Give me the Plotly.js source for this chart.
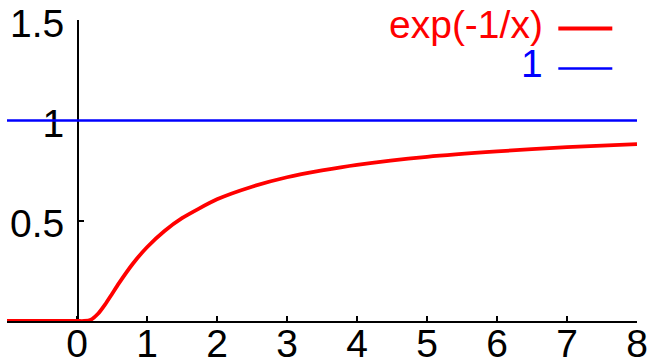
<!DOCTYPE html>
<html>
<head>
<meta charset="utf-8">
<script src="https://cdn.plot.ly/plotly-3.0.1.min.js"></script>
<style>html,body{margin:0;padding:0;background:#fff;}#chart{width:648px;height:362px;}</style>
</head>
<body>
<div id="chart"></div>
<script>
// Red curve: exp(-1/x)
var curveX = [-1, 0, 0.1, 0.2, 0.3, 0.4, 0.5, 0.6, 0.8, 1, 1.25, 1.5, 2, 2.5, 3, 3.5, 4, 5, 6, 7, 8];
var curveY = [0, 0, 0.00005, 0.0067, 0.036, 0.082, 0.135, 0.189, 0.287, 0.368, 0.449, 0.513, 0.607, 0.670, 0.717, 0.751, 0.779, 0.819, 0.846, 0.867, 0.882];
// Blue constant line: 1
var constX = [-1, 8];
var constY = [1, 1];
// Ticks
var xTicks = [0, 1, 2, 3, 4, 5, 6, 7, 8];
var yTicks = [0.5, 1, 1.5];
var yTickText = ['0.5', '1', '1.5'];
var legendNames = ['exp(-1/x)', '1'];

var FONT = 'Liberation Sans, Arial, Helvetica, sans-serif';
var FS = 39;
var RED = '#ff0000', BLUE = '#0000ff';

var traces = [
  {x: curveX, y: curveY, type: 'scatter', mode: 'lines', line: {color: RED, width: 3.8, shape: 'spline', smoothing: 0.6}, cliponaxis: false, showlegend: false, hoverinfo: 'skip'},
  {x: constX, y: constY, type: 'scatter', mode: 'lines', line: {color: BLUE, width: 2.5}, cliponaxis: false, showlegend: false, hoverinfo: 'skip'}
];

var layout = {
  width: 648, height: 362,
  margin: {l: 7, r: 11, t: 20, b: 41, pad: 0},
  paper_bgcolor: '#fff', plot_bgcolor: '#fff',
  font: {family: FONT, size: FS, color: '#000'},
  showlegend: false,
  xaxis: {
    range: [-1, 8], domain: [0, 1],
    tickmode: 'array', tickvals: xTicks, ticktext: xTicks.map(String),
    ticks: 'inside', ticklen: 5, tickwidth: 1.5, tickcolor: '#000',
    showline: true, linecolor: '#000', linewidth: 1.5,
    showgrid: false, zeroline: false, automargin: false,
    layer: 'below traces', fixedrange: true,
    ticklabelstandoff: -12,
    tickfont: {family: FONT, size: FS, color: '#000'}
  },
  yaxis: {
    range: [0, 1.5015], anchor: 'free', position: 1/9,
    tickmode: 'array', tickvals: yTicks, ticktext: yTickText,
    ticks: 'inside', ticklen: 5, tickwidth: 1.5, tickcolor: '#000',
    showline: true, linecolor: '#000', linewidth: 1.5,
    showgrid: false, zeroline: false, automargin: false,
    layer: 'below traces', fixedrange: true,
    ticklabelstandoff: 5, ticklabelshift: 3,
    tickfont: {family: FONT, size: FS, color: '#000'}
  },
  annotations: [
    {text: legendNames[0], xref: 'paper', yref: 'paper', x: 0.8544, y: 0.9867, xanchor: 'right', yanchor: 'middle', showarrow: false, font: {family: FONT, size: FS, color: RED}},
    {text: legendNames[1], xref: 'paper', yref: 'paper', x: 0.8544, y: 0.854, xanchor: 'right', yanchor: 'middle', showarrow: false, font: {family: FONT, size: FS, color: BLUE}}
  ],
  shapes: [
    {type: 'line', xref: 'paper', yref: 'paper', x0: 0.8751, x1: 0.9608, y0: 0.9718, y1: 0.9718, line: {color: RED, width: 3.8}},
    {type: 'line', xref: 'paper', yref: 'paper', x0: 0.8751, x1: 0.9608, y0: 0.8391, y1: 0.8391, line: {color: BLUE, width: 2.5}}
  ]
};

Plotly.newPlot('chart', traces, layout, {staticPlot: true, displayModeBar: false});
</script>
</body>
</html>
